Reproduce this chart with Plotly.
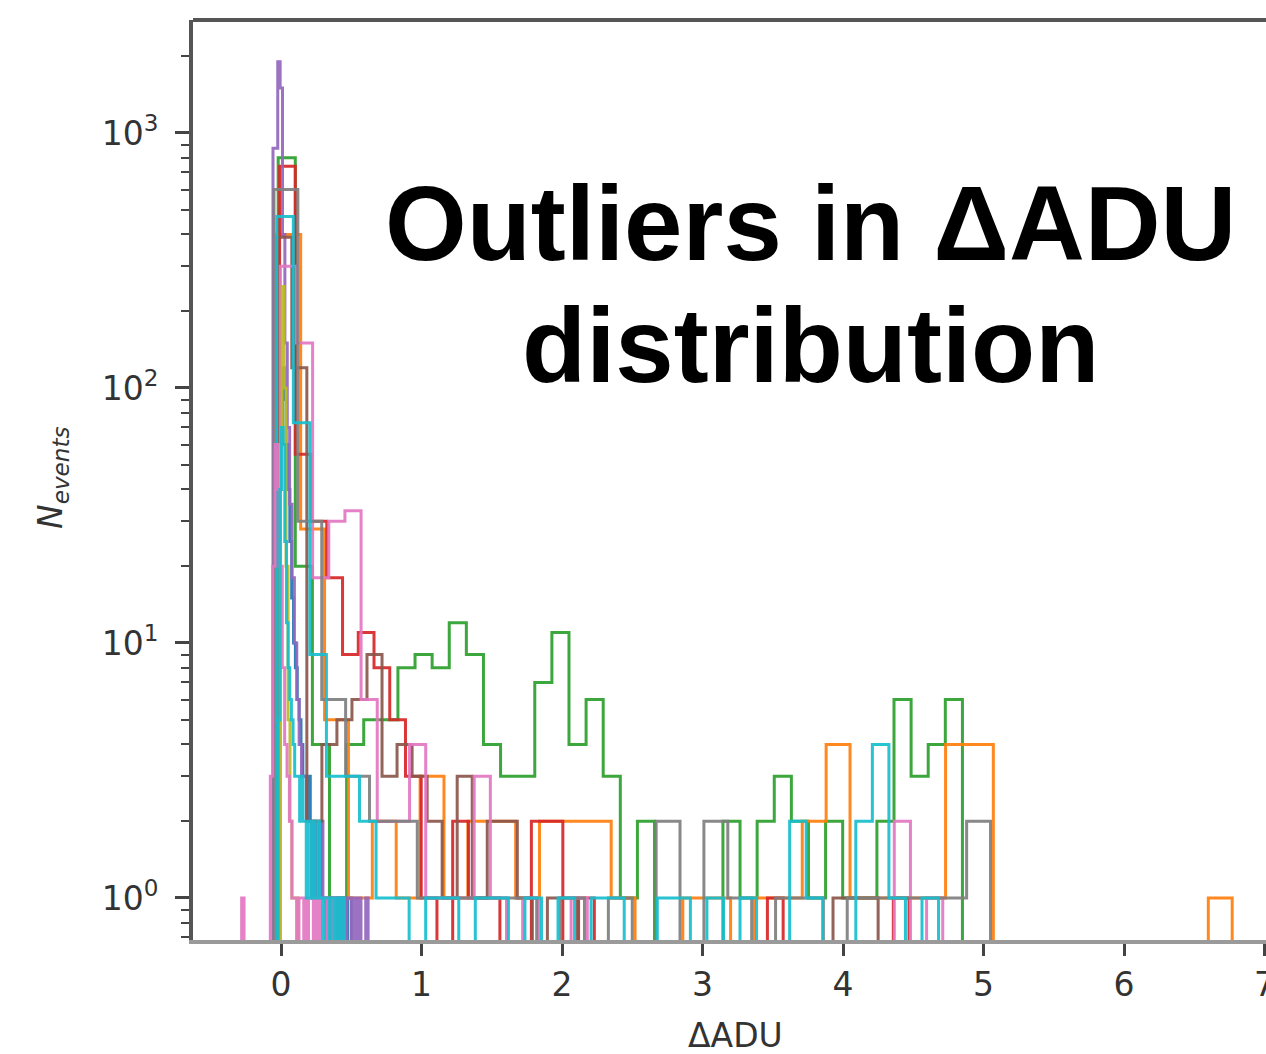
import numpy as np
import plotly.graph_objects as go

# ---------------- data (histogram outlines: lower edge, upper edge, counts per equal-width bin) -------------
blue_range = (-0.03, 0.50)
blue_counts = [0, 15, 60, 120, 90, 60, 40, 25, 15, 10, 8, 6, 5, 4, 3, 3, 2, 3, 2, 1,
               2, 1, 1, 2, 1, 1, 1, 0, 1, 1, 1, 0, 1, 1, 0, 1, 0, 0, 1, 1]

orange_range = (-0.03, 6.77)
orange_counts = [400, 28, 5, 1, 2, 1, 3, 1, 2, 2, 1, 2, 2, 2, 1, 0, 0, 1, 1, 0,
                 1, 1, 2, 4, 1, 1, 1, 1, 4, 4, 0, 0, 0, 0, 0, 0, 0, 0, 0, 1]

green_range = (-0.02, 4.85)
green_counts = [800, 20, 4, 1, 4, 5, 5, 8, 9, 8, 12, 9, 4, 3, 3, 7, 11, 4, 6, 3,
                1, 2, 0, 0, 0, 0, 2, 1, 2, 3, 2, 1, 2, 1, 1, 2, 6, 3, 4, 6]

red_range = (-0.01, 4.47)
red_counts = [740, 55, 30, 18, 9, 11, 8, 5, 3, 1, 0, 2, 1, 1, 0, 0, 2, 2, 0, 1,
              0, 0, 0, 0, 0, 0, 0, 0, 0, 0, 0, 1, 0, 0, 0, 0, 0, 0, 0, 1]

purple_range = (-0.057, 0.62)
purple_counts = [870, 870, 1900, 1500, 400, 150, 70, 35, 18, 10, 6, 4, 3, 3, 2, 2, 1, 2, 1, 1,
                 2, 1, 1, 0, 1, 1, 0, 1, 0, 1, 0, 1, 1, 0, 1, 0, 1, 0, 0, 1]

brown_range = (-0.03, 4.25)
brown_counts = [390, 120, 2, 4, 5, 6, 9, 3, 4, 3, 2, 1, 3, 1, 2, 2, 1, 0, 1, 1,
                0, 0, 0, 0, 0, 0, 0, 0, 0, 0, 0, 0, 0, 0, 0, 0, 0, 1, 1, 1]

pink_range = (-0.005, 4.71)
pink_counts = [300, 150, 18, 30, 33, 6, 2, 2, 4, 1, 1, 1, 3, 1, 0, 1, 0, 0, 1, 0,
               0, 0, 0, 0, 0, 0, 0, 0, 0, 0, 0, 0, 0, 0, 0, 0, 0, 0, 2, 0, 1]

gray_range = (-0.05, 5.05)
gray_counts = [600, 30, 6, 3, 2, 2, 1, 1, 1, 1, 1, 0, 1, 0, 1, 0, 2, 0, 2, 1,
               0, 1, 1, 0, 1, 1, 1, 1, 1, 2]

olive_range = (-0.02, 0.12)
olive_counts = [0, 60, 250, 100, 20, 5, 2, 1, 1, 1]

cyan_range = (-0.03, 4.68)
cyan_counts = [470, 73, 9, 3, 3, 2, 1, 1, 0, 1, 1, 0, 1, 1, 0, 1, 0, 1, 0, 1,
               1, 0, 0, 1, 1, 0, 1, 0, 1, 0, 0, 2, 1, 0, 0, 2, 4, 1, 0, 1]

pink2_range = (-0.28, 0.40)
pink2_counts = [1, 0, 0, 0, 0, 0, 0, 0, 0, 0, 0, 0, 3, 20, 60, 40, 20, 8, 4, 3,
                2, 1, 1, 0, 1, 1, 0, 1, 0, 0, 1, 0, 1, 0, 0, 1, 0, 0, 1, 0]

cyan2_range = (-0.02, 0.45)
cyan2_counts = [5, 40, 70, 60, 25, 12, 8, 6, 5, 4, 3, 3, 3, 2, 3, 2, 2, 1, 2, 2,
                1, 2, 1, 1, 2, 1, 1, 0, 1, 1, 1, 0, 1, 1, 0, 1, 0, 1, 0, 1]

x_ticks = [0, 1, 2, 3, 4, 5, 6, 7]
y_ticks = [1, 10, 100, 1000]
y_ticktext = ["10<sup>0</sup>", "10<sup>1</sup>", "10<sup>2</sup>", "10<sup>3</sup>"]
title_lines = ["Outliers in \u0394ADU", "distribution"]
x_title = "\u0394ADU"
y_title = "<i>N<sub>events</sub></i>"

series = [
    ("#1f77b4", blue_range, blue_counts),
    ("#2ca02c", green_range, green_counts),
    ("#ff7f0e", orange_range, orange_counts),
    ("#d62728", red_range, red_counts),
    ("#9467bd", purple_range, purple_counts),
    ("#8c564b", brown_range, brown_counts),
    ("#e377c2", pink_range, pink_counts),
    ("#7f7f7f", gray_range, gray_counts),
    ("#bcbd22", olive_range, olive_counts),
    ("#17becf", cyan_range, cyan_counts),
    ("#e377c2", pink2_range, pink2_counts),
    ("#17becf", cyan2_range, cyan2_counts),
]

FLOOR = 1e-3  # empty bins drop below the visible log range (like matplotlib)


def step_outline(rng, counts):
    edges = np.linspace(rng[0], rng[1], len(counts) + 1)
    c = [v if v > 0 else FLOOR for v in counts]
    x = [edges[0]] + list(edges[:-1]) + [edges[-1], edges[-1]]
    y = [FLOOR] + c + [c[-1], FLOOR]
    return x, y


fig = go.Figure()
for color, rng, counts in series:
    x, y = step_outline(rng, counts)
    fig.add_trace(go.Scatter(x=x, y=y, mode="lines", line=dict(color=color, width=3, shape="hv"),
                             opacity=0.92, showlegend=False, hoverinfo="skip"))

W, H = 1266, 1054
L, R, T, B = 193, 0, 20, 114
pw = W - L - R
x0_px, unit_px = 88.0, 140.5
xr = [-x0_px / unit_px, (pw - x0_px) / unit_px]
yr = [np.log10(0.684), np.log10(2773)]

tick_font = dict(family="DejaVu Sans", size=33, color="#333333")
minor_vals = [m * 10 ** e for e in range(-1, 4) for m in range(2, 10)]

fig.update_layout(
    width=W, height=H,
    margin=dict(l=L, r=R, t=T, b=B, pad=0, autoexpand=False),
    paper_bgcolor="white", plot_bgcolor="white",
    xaxis=dict(range=xr, tickmode="array", tickvals=x_ticks, ticks="outside", ticklen=12, tickwidth=3,
               tickcolor="#444444", showline=True, linecolor="#9a9a9a", linewidth=4, showgrid=False,
               zeroline=False, tickfont=tick_font, ticklabeloverflow="allow", automargin=False),
    yaxis=dict(type="log", range=yr, tickmode="array", tickvals=y_ticks, ticktext=y_ticktext,
               ticks="outside", ticklen=14, tickwidth=3, tickcolor="#444444", showline=True,
               linecolor="#555555", linewidth=4, showgrid=False, zeroline=False, tickfont=tick_font,
               ticklabelstandoff=10, automargin=False,
               minor=dict(tickmode="array", tickvals=minor_vals, ticks="outside", ticklen=8,
                          tickwidth=2, tickcolor="#444444", showgrid=False)),
    shapes=[dict(type="line", xref="paper", yref="paper", x0=0, x1=1, y0=1, y1=1,
                 line=dict(color="#555555", width=4))],
    annotations=[
        dict(text=x_title, xref="paper", yref="paper", x=(735 - L) / pw, y=-(1035 - 940) / 920,
             xanchor="center", yanchor="middle", showarrow=False,
             font=dict(family="DejaVu Sans", size=33, color="#333333")),
        dict(text=y_title, xref="paper", yref="paper", x=-(193 - 52) / pw, y=(940 - 478) / 920,
             xanchor="center", yanchor="middle", showarrow=False, textangle=-90,
             font=dict(family="DejaVu Sans", size=33, color="#333333")),
        dict(text="<b>" + title_lines[0] + "</b>", xref="paper", yref="paper", x=(810 - L) / pw,
             y=(940 - 223) / 920, xanchor="center", yanchor="middle", showarrow=False,
             font=dict(family="Liberation Sans", size=105, color="black")),
        dict(text="<b>" + title_lines[1] + "</b>", xref="paper", yref="paper", x=(810 - L) / pw,
             y=(940 - 345) / 920, xanchor="center", yanchor="middle", showarrow=False,
             font=dict(family="Liberation Sans", size=105, color="black")),
    ],
)

fig.write_html("out.html")
